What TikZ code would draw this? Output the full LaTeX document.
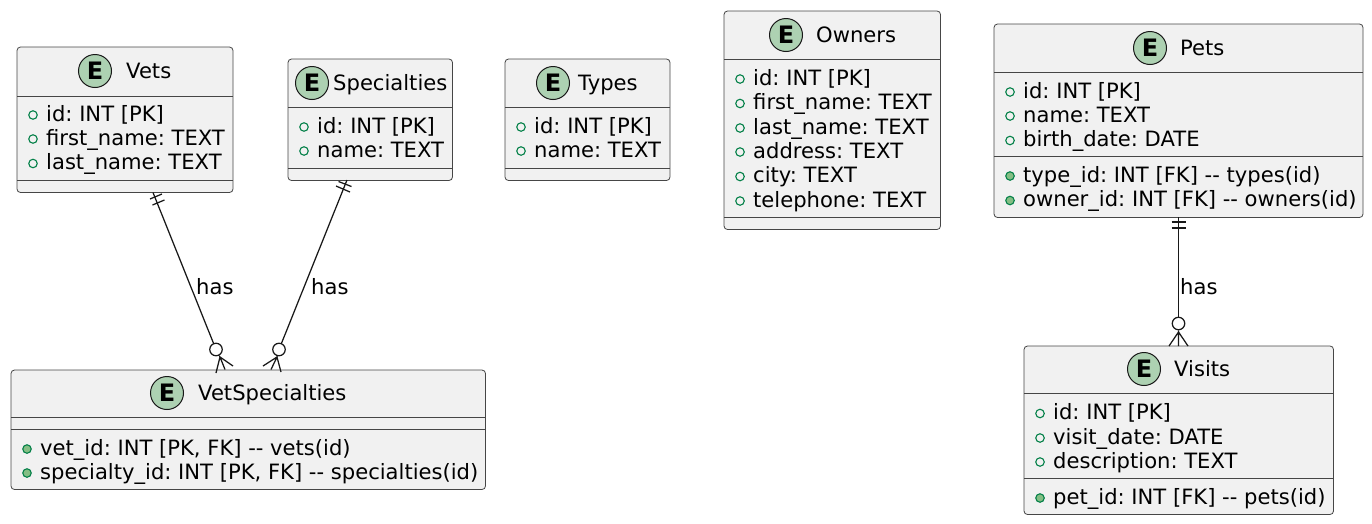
\documentclass[tikz,border=0pt]{standalone}
\usepackage{fontspec}
\setmainfont{DejaVu Sans}
\frenchspacing
\usetikzlibrary{positioning}
\definecolor{boxfill}{HTML}{F1F1F1}
\definecolor{boxline}{HTML}{181818}
\definecolor{spotfill}{HTML}{ADD1B2}
\definecolor{attrline}{HTML}{038048}
\definecolor{methfill}{HTML}{84BE84}
\tikzset{
    entity/.style={draw=boxline!80,fill=boxfill,line width=.8pt,rounded corners=3.5pt,anchor=north west,inner sep=0pt,outer sep=0pt},
    spot/.style={circle,draw=boxline,fill=spotfill,line width=1pt,minimum size=33pt,inner sep=0pt,font=\fontsize{24}{24}\selectfont\bfseries},
    label/.style={anchor=base west,inner sep=0pt,text=black,font=\fontsize{21.1}{24}\selectfont},
    attr/.style={circle,draw=attrline,line width=1.1pt,minimum size=8.5pt,inner sep=0pt},
    meth/.style={attr,fill=methfill},
    link/.style={draw=boxline,line width=1.25pt},
    crow/.style={circle,draw=boxline,fill=white,line width=1.25pt,minimum size=12.5pt,inner sep=0pt},
}
\newcommand{\entitybox}[5]{% name, left, top, width, height
  \node[entity,minimum width=#4pt,minimum height=#5pt] (#1) at (#2,#3) {};
}
\newcommand{\sepline}[2]{\draw[boxline!80,line width=.8pt] (#1.west |- 0,#2) -- (#1.east |- 0,#2);}
\newcommand{\attrow}[5]{% name, style, left, baseline, text
  \node[#2] (#1m) at (#3+16,#4-6) {};
  \node[label] (#1) at (#3+29,#4) {#5};
}
\begin{document}
\begin{tikzpicture}[x=1pt,y=-1pt]
  \useasboundingbox (0,0) rectangle (1372,523);

  % Vets
  \entitybox{vets}{17}{47}{216}{145.5}
  \sepline{vets}{96}
  \sepline{vets}{180}
  \node[spot] (vetsE) at (95,71) {E};
  \node[label] (vetsT) at (126,78) {Vets};
  \attrow{vetsa}{attr}{17}{121}{id: INT [PK]}
  \attrow{vetsb}{attr}{17}{145}{first\_name: TEXT}
  \attrow{vetsc}{attr}{17}{169.5}{last\_name: TEXT}

  % Specialties
  \entitybox{spec}{288}{59}{164.5}{121.5}
  \sepline{spec}{107.5}
  \sepline{spec}{168}
  \node[spot] (specE) at (312,83) {E};
  \node[label] (specT) at (333,90) {Specialties};
  \attrow{speca}{attr}{288}{133}{id: INT [PK]}
  \attrow{specb}{attr}{288}{157}{name: TEXT}

  % Types
  \entitybox{types}{505}{59}{165}{121.5}
  \sepline{types}{107.5}
  \sepline{types}{168}
  \node[spot] (typesE) at (553,83) {E};
  \node[label] (typesT) at (578,90) {Types};
  \attrow{typesa}{attr}{505}{133}{id: INT [PK]}
  \attrow{typesb}{attr}{505}{157}{name: TEXT}

  % Owners
  \entitybox{owners}{724}{11}{216.5}{218.5}
  \sepline{owners}{59}
  \sepline{owners}{217}
  \node[spot] (ownersE) at (786,35) {E};
  \node[label] (ownersT) at (816,42) {Owners};
  \attrow{ownersa}{attr}{724}{85}{id: INT [PK]}
  \attrow{ownersb}{attr}{724}{109.5}{first\_name: TEXT}
  \attrow{ownersc}{attr}{724}{134}{last\_name: TEXT}
  \attrow{ownersd}{attr}{724}{158}{address: TEXT}
  \attrow{ownerse}{attr}{724}{182.5}{city: TEXT}
  \attrow{ownersf}{attr}{724}{207}{telephone: TEXT}

  % Pets
  \entitybox{pets}{994}{24}{369}{193.5}
  \sepline{pets}{72}
  \sepline{pets}{156.5}
  \node[spot] (petsE) at (1150,48) {E};
  \node[label] (petsT) at (1180,55) {Pets};
  \attrow{petsa}{attr}{994}{98}{id: INT [PK]}
  \attrow{petsb}{attr}{994}{122}{name: TEXT}
  \attrow{petsc}{attr}{994}{146.5}{birth\_date: DATE}
  \attrow{petsd}{meth}{994}{182}{type\_id: INT [FK] -{}- types(id)}
  \attrow{petse}{meth}{994}{206.5}{owner\_id: INT [FK] -{}- owners(id)}

  % Visits
  \entitybox{visits}{1024}{346}{309.5}{168.5}
  \sepline{visits}{393.5}
  \sepline{visits}{478}
  \node[spot] (visitsE) at (1144,369) {E};
  \node[label] (visitsT) at (1174,376.5) {Visits};
  \attrow{visitsa}{attr}{1024}{419.5}{id: INT [PK]}
  \attrow{visitsb}{attr}{1024}{444}{visit\_date: DATE}
  \attrow{visitsc}{attr}{1024}{468}{description: TEXT}
  \attrow{visitsd}{meth}{1024}{504}{pet\_id: INT [FK] -{}- pets(id)}

  % VetSpecialties
  \entitybox{vetspec}{11}{370}{474.5}{119.5}
  \sepline{vetspec}{417.5}
  \sepline{vetspec}{429.5}
  \node[spot] (vetspecE) at (167,393) {E};
  \node[label] (vetspecT) at (198,400.5) {VetSpecialties};
  \attrow{vetspeca}{meth}{11}{455}{vet\_id: INT [PK, FK] -{}- vets(id)}
  \attrow{vetspecb}{meth}{11}{479}{specialty\_id: INT [PK, FK] -{}- specialties(id)}

  % Vets -- VetSpecialties
  \node[crow] (vetsC) at (216,349.5) {};
  \coordinate (vetsO) at (153,192.5);
  \draw[link] (vetsO) -- (vetsC);
  \draw[link] (150,199) -- (162,194) (152.5,205) -- (164.5,200);
  \draw[link] (vetsC) -- (220,357) -- (216,373) (220,357) -- (225,369.5) (220,357) -- (233,366);
  \node[label] (vetsH) at (196,294) {has};

  % Specialties -- VetSpecialties
  \node[crow] (specC) at (279,349.5) {};
  \coordinate (specO) at (347,180);
  \draw[link] (specO) -- (specC);
  \draw[link] (336,186) -- (350,192) (338.5,181.5) -- (351.5,186.5);
  \draw[link] (specC) -- (277,357) -- (263,366) (277,357) -- (271,369.5) (277,357) -- (281,372);
  \node[label] (specH) at (311,294) {has};

  % Pets -- Visits
  \node[crow] (petsC) at (1178.5,323.5) {};
  \coordinate (petsO) at (1178.5,217);
  \draw[link] (petsO) -- (petsC);
  \draw[link] (1171.5,222) -- (1185.5,222) (1171.5,228) -- (1185.5,228);
  \draw[link] (petsC) -- (1178.5,346) (1178.5,332) -- (1169,346) (1178.5,332) -- (1188,346);
  \node[label] (petsH) at (1180,294) {has};
\end{tikzpicture}
\end{document}
